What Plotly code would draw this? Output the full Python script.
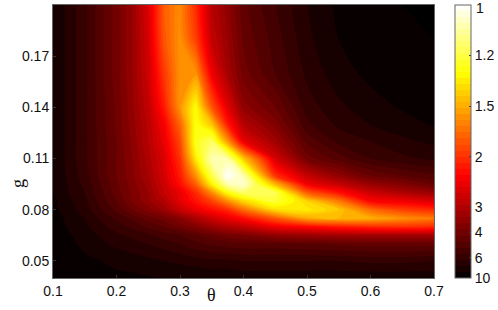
import plotly.graph_objects as go

theta = [.10,.15,.20,.225,.25,.275,.30,.325,.35,.375,.40,.45,.50,.55,.60,.65,.70]
g = [.04,.05,.06,.065,.07,.075,.08,.085,.09,.095,.10,.11,.12,.13,.14,.16,.18,.20]
inv_value = [
[.10,.11,.115,.115,.118,.12,.12,.12,.122,.122,.125,.125,.125,.125,.125,.125,.125],
[.10,.115,.125,.13,.135,.14,.145,.15,.155,.155,.16,.16,.16,.16,.165,.165,.16],
[.105,.125,.145,.152,.16,.17,.18,.195,.205,.21,.215,.215,.22,.225,.23,.23,.23],
[.105,.13,.155,.165,.175,.19,.20,.215,.235,.25,.26,.29,.30,.31,.31,.31,.31],
[.11,.135,.17,.185,.205,.22,.245,.27,.30,.33,.35,.415,.44,.47,.49,.50,.49],
[.11,.14,.185,.205,.23,.25,.28,.325,.37,.41,.45,.55,.66,.68,.67,.63,.60],
[.115,.15,.205,.24,.27,.305,.36,.41,.45,.49,.58,.73,.75,.70,.58,.52,.49],
[.115,.155,.22,.26,.295,.335,.40,.46,.52,.62,.72,.82,.72,.60,.44,.42,.39],
[.12,.16,.23,.265,.30,.36,.41,.49,.62,.78,.86,.85,.56,.46,.37,.33,.30],
[.12,.165,.235,.27,.31,.37,.45,.56,.76,.93,.96,.68,.42,.36,.30,.27,.235],
[.12,.17,.24,.275,.32,.38,.47,.63,.84,1.0,.93,.50,.36,.29,.24,.22,.205],
[.12,.175,.24,.28,.33,.39,.50,.75,.93,.92,.70,.38,.25,.21,.18,.165,.155],
[.12,.175,.24,.285,.34,.41,.53,.80,.86,.64,.41,.31,.215,.175,.16,.145,.135],
[.12,.175,.245,.29,.345,.43,.57,.79,.70,.47,.34,.27,.185,.155,.14,.128,.118],
[.12,.175,.245,.295,.355,.47,.63,.78,.55,.40,.29,.24,.17,.145,.128,.118,.108],
[.12,.175,.25,.30,.37,.51,.63,.63,.42,.32,.25,.20,.155,.128,.115,.108,.102],
[.12,.175,.25,.30,.38,.55,.63,.52,.36,.30,.235,.19,.145,.12,.11,.102,.10],
[.12,.175,.25,.30,.39,.56,.62,.49,.34,.29,.225,.18,.14,.115,.105,.10,.10],
]
bar_values = [1.2,1.5,2,3,4,6,10]
bar_labels = ["1.2","1.5","2","3","4","6","10"]
bar_top_label = "1"
x_ticks = [.1,.2,.3,.4,.5,.6,.7]
y_ticks = [.05,.08,.11,.14,.17]

hot = [[0,"#000000"],[.375,"#ff0000"],[.75,"#ffff00"],[1,"#ffffff"]]
font = dict(family="Liberation Sans", size=14, color="#111")
frame = dict(showgrid=False, zeroline=False, showline=True, mirror=True, linecolor="#666",
             linewidth=1, ticks="inside", ticklen=3, tickcolor="#333", tickfont=font)

fig = go.Figure(go.Contour(
    x=theta, y=g, z=inv_value, colorscale=hot, zmin=.1, zmax=1,
    contours=dict(coloring="fill", start=.1, end=1.0, size=.02, showlines=False),
    line_width=0,
    colorbar=dict(x=455/498, xref="container", xanchor="left", y=.5, yanchor="middle", len=1, lenmode="fraction",
                  thickness=16, thicknessmode="pixels", xpad=0, ypad=0,
                  tickvals=[1/v for v in bar_values], ticktext=bar_labels, tickfont=font,
                  ticks="inside", ticklen=2, tickcolor="#333", outlinecolor="#666", outlinewidth=1),
))
fig.update_layout(
    width=498, height=310, margin=dict(l=53, r=64, t=5, b=32), paper_bgcolor="white",
    plot_bgcolor="white", showlegend=False,
    xaxis=dict(range=[.1,.7], tickvals=x_ticks, ticktext=[f"{v:.1f}" for v in x_ticks], **frame),
    yaxis=dict(range=[.04,.2], tickvals=y_ticks, ticktext=[f"{v:.2f}" for v in y_ticks], **frame),
    annotations=[
        dict(text="θ", xref="paper", yref="paper", x=.417, y=-.02, xanchor="center", yanchor="top", showarrow=False,
             font=dict(family="Liberation Serif", size=18, color="#111")),
        dict(text="g", xref="paper", yref="paper", x=-.092, y=.348, xanchor="center", yanchor="middle", textangle=-90, showarrow=False,
             font=dict(family="Liberation Serif", size=18, color="#111")),
        dict(text=bar_top_label, xref="paper", yref="paper", x=1.105, y=.99, xanchor="left", yanchor="middle", showarrow=False, font=font),
    ],
)
fig.write_html("out.html", config=dict(displayModeBar=False),
               post_script="document.body.style.margin='0';document.body.style.overflow='hidden';")
